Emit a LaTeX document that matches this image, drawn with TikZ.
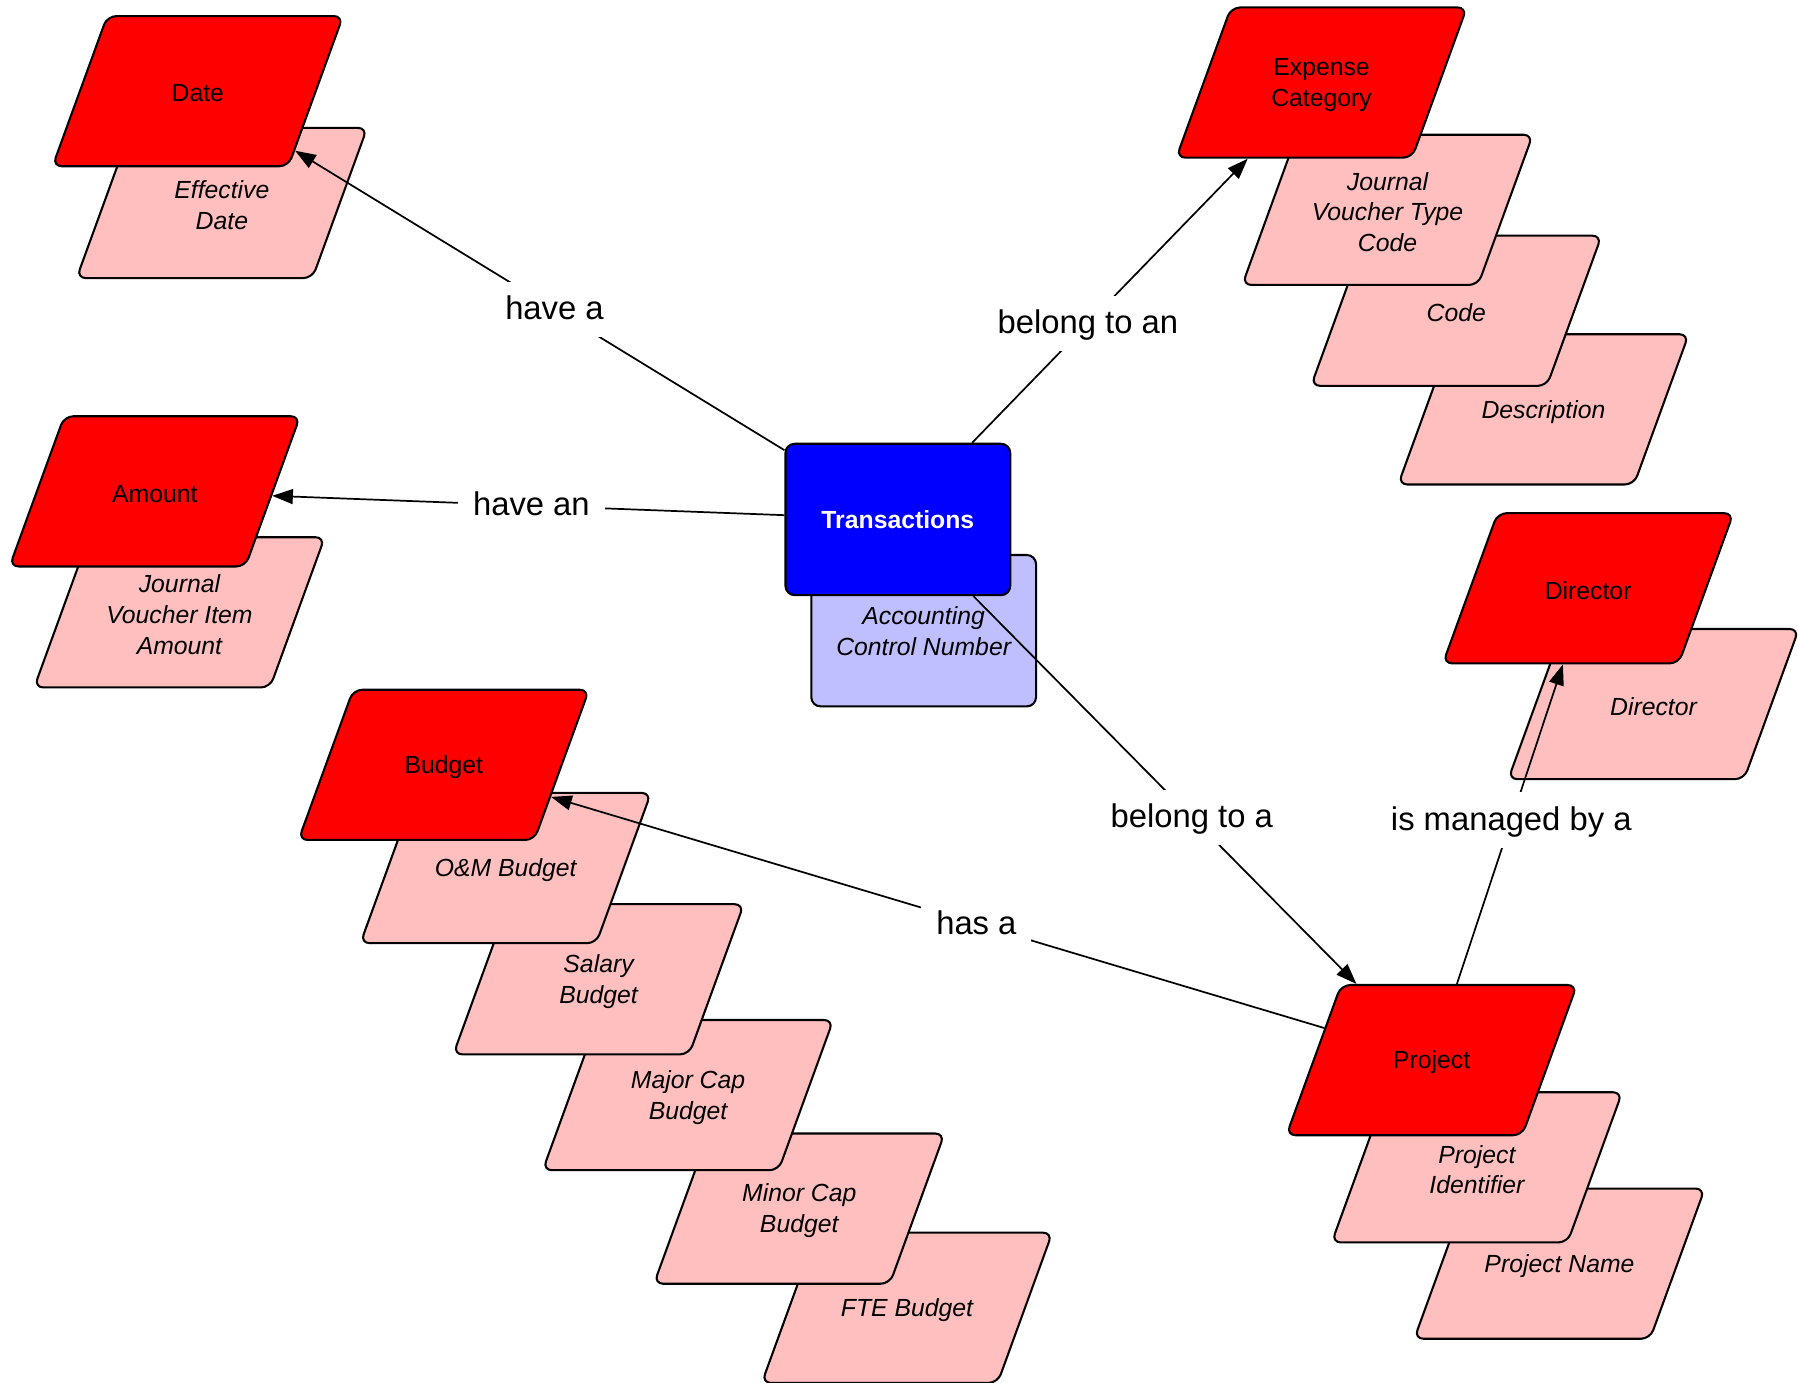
\documentclass[tikz,border=0pt]{standalone}
\usepackage{fontspec}
\setmainfont{Liberation Sans}
\usetikzlibrary{shapes.geometric,arrows.meta}
\definecolor{entred}{RGB}{255,0,0}
\definecolor{attrpink}{RGB}{255,191,191}
\definecolor{tblue}{RGB}{0,0,255}
\definecolor{tlight}{RGB}{191,191,255}
\newcommand{\pbox}[1]{\parbox[c][65.5pt][c]{79pt}{\centering\vspace*{2pt}#1}}
\begin{document}
\begin{tikzpicture}[x=0.5pt,y=-0.5pt,
  para/.style={trapezium, trapezium left angle=70, trapezium right angle=110,
    inner sep=0pt, draw=black, line width=0.9pt, rounded corners=4pt},
  entity/.style={para, fill=entred, font=\fontsize{10.8}{13.5}\selectfont},
  attr/.style={para, fill=attrpink, font=\fontsize{10.8}{13.5}\selectfont\itshape},
  tbox/.style={rectangle, draw=black, line width=0.9pt, rounded corners=4pt,
    minimum width=98pt, minimum height=66pt, inner sep=0pt, align=center},
  conn/.style={-{Triangle[length=9pt,width=6.5pt]}, line width=0.75pt},
  lbl/.style={fill=white, inner xsep=6.5pt, inner ysep=7.3pt, text height=0.925em,
    text depth=0.025em, font=\fontsize{14.3}{17}\selectfont}
]
\useasboundingbox (0,0) rectangle (1568,1206);

% attribute boxes (behind)
\node[attr] (effdate) at (193.5,177) {\pbox{Effective\\Date}};
\node[attr] (jvamt) at (156.5,534) {\pbox{Journal\\Voucher Item\\Amount}};
\node[attr] (fte) at (791,1140.5) {\pbox{FTE Budget}};
\node[attr] (minorcap) at (697,1054) {\pbox{Minor Cap\\Budget}};
\node[attr] (majorcap) at (600,955) {\pbox{Major Cap\\Budget}};
\node[attr] (salary) at (522,854) {\pbox{Salary\\Budget}};
\node[attr] (om) at (441,757) {\pbox{O\&M Budget}};
\node[attr] (desc) at (1346,357) {\pbox{Description}};
\node[attr] (code) at (1270,271) {\pbox{Code}};
\node[attr] (jvtype) at (1210,183) {\pbox{Journal\\Voucher Type\\Code}};
\node[attr] (dirattr) at (1442,614) {\pbox{Director}};
\node[attr] (projname) at (1360,1102) {\pbox{Project Name}};
\node[attr] (projid) at (1288,1018) {\pbox{Project\\Identifier}};
\node[tbox, fill=tlight, font=\fontsize{10.8}{13.5}\selectfont\itshape] (acct) at (805.5,550) {Accounting\\Control Number};

% entities
\node[entity] (date) at (172.5,79.5) {\pbox{Date}};
\node[entity] (amount) at (135,428.5) {\pbox{Amount}};
\node[entity] (budget) at (387,667) {\pbox{Budget}};
\node[entity] (expense) at (1152.5,72) {\pbox{Expense\\Category}};
\node[entity] (director) at (1385,513) {\pbox{Director}};
\node[entity] (project) at (1248.5,924.5) {\pbox{Project}};
\node[tbox, fill=tblue, text=white, font=\fontsize{10.8}{13.5}\selectfont\bfseries] (trans) at (783,453) {Transactions};

% connectors
\draw[conn] (trans) -- node[lbl, pos=0.47] {have a} (date);
\draw[conn] (trans) -- node[lbl, pos=0.494] {have an} (amount);
\draw[conn] (trans) -- node[lbl, pos=0.42] {belong to an} (expense);
\draw[conn] (trans) -- node[lbl, pos=0.57] {belong to a} (project);
\draw[conn] (project) -- node[lbl, pos=0.45] {has a} (budget);
\draw[conn] (project) -- node[lbl, pos=0.513] {is managed by a} (director);
\end{tikzpicture}
\end{document}
